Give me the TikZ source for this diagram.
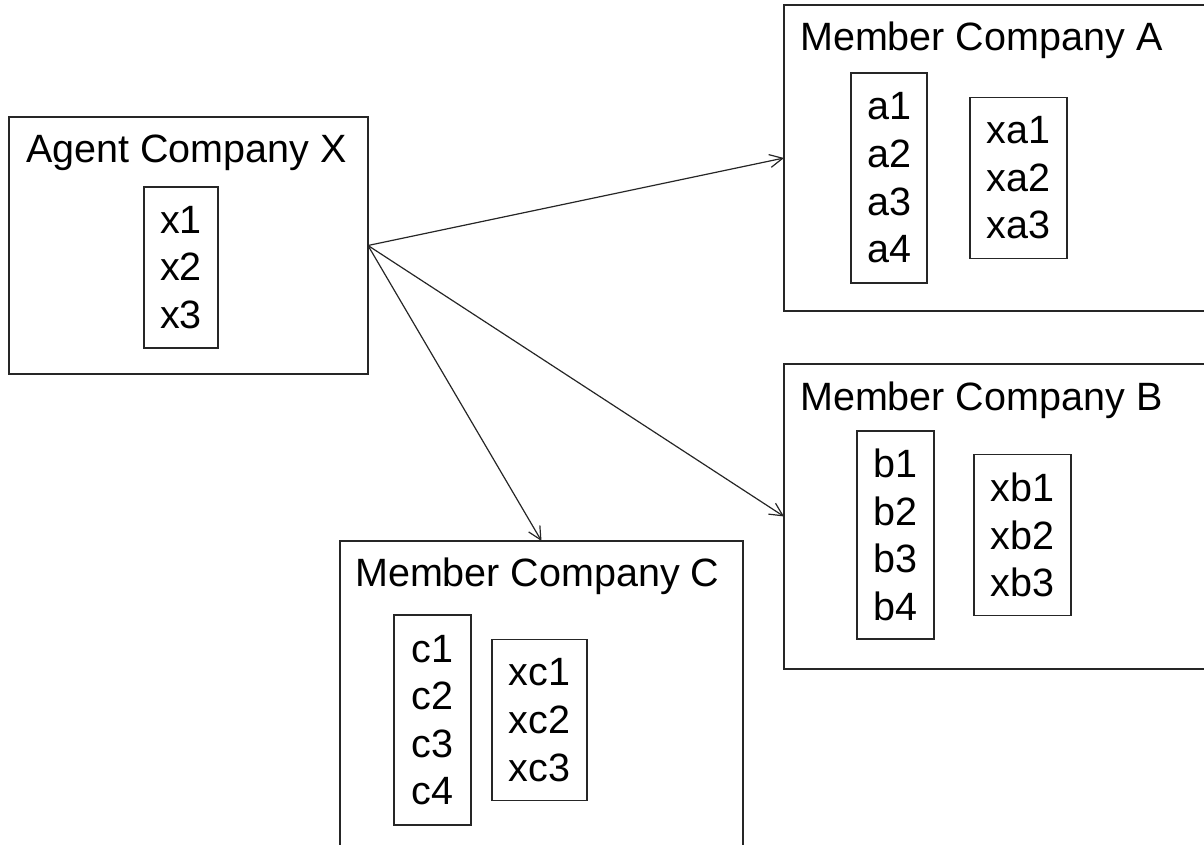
\documentclass[tikz,border=0pt]{standalone}
\usepackage{fontspec}
\setmainfont{Liberation Sans}
\usetikzlibrary{arrows.meta, positioning}
\tikzstyle{company} = [rectangle, draw=black!85, line width=1.4pt, anchor=north west, inner sep=0pt, outer sep=0pt]
\tikzstyle{title} = [anchor=base west, inner sep=0pt]
\tikzstyle{list} = [rectangle, draw=black!85, line width=1.4pt, align=left, inner sep=0pt, outer sep=0pt, minimum height=161pt]
\tikzstyle{arrow} = [line width=1.2pt, draw=black!85, -{Straight Barb[length=13pt, width=13pt]}]

\begin{document}
\begin{tikzpicture}[x=1pt, y=1pt, node distance = 43pt, font=\fontsize{39.5}{47.6}\selectfont]
	\useasboundingbox (0,0) rectangle (1204,-845);
	% company boxes
	\node (AgentX) [company, minimum width=359pt, minimum height=257pt] at (9,-117) {};
	\node (CompanyA) [company, minimum width=440pt, minimum height=306pt] at (784,-5) {};
	\node (CompanyB) [company, minimum width=440pt, minimum height=305pt] at (784,-364) {};
	\node (CompanyC) [company, minimum width=403pt, minimum height=330pt] at (340,-541) {};
	\node (TitleX) [title] at ([shift={(17,-46)}]AgentX.north west) {Agent Company X};
	\node (TitleA) [title] at ([shift={(16,-46)}]CompanyA.north west) {Member Company A};
	\node (TitleB) [title] at ([shift={(16,-46)}]CompanyB.north west) {Member Company B};
	\node (TitleC) [title] at ([shift={(15,-45)}]CompanyC.north west) {Member Company C};
	% lists
	\node (ListX) [list, minimum width=74pt] at (181,-267.5) {x1\\x2\\x3};
	\node (ListA) [list, minimum width=76pt, minimum height=210pt] at (889,-178) {a1\\a2\\a3\\a4};
	\node (ListXA) [list, minimum width=97pt, right = 43pt of ListA] {xa1\\xa2\\xa3};
	\node (ListB) [list, minimum width=77pt, minimum height=208pt] at (895.5,-535) {b1\\b2\\b3\\b4};
	\node (ListXB) [list, minimum width=97pt, right = 40pt of ListB] {xb1\\xb2\\xb3};
	\node (ListC) [list, minimum width=77pt, minimum height=210pt] at (432.5,-720) {c1\\c2\\c3\\c4};
	\node (ListXC) [list, minimum width=95pt, right = 21pt of ListC] {xc1\\xc2\\xc3};
	% links
	\draw [arrow] (AgentX.east) -- (CompanyA.west);
	\draw [arrow] (AgentX.east) -- (CompanyB.west);
	\draw [arrow] (AgentX.east) -- (CompanyC.north);
\end{tikzpicture}
\end{document}
